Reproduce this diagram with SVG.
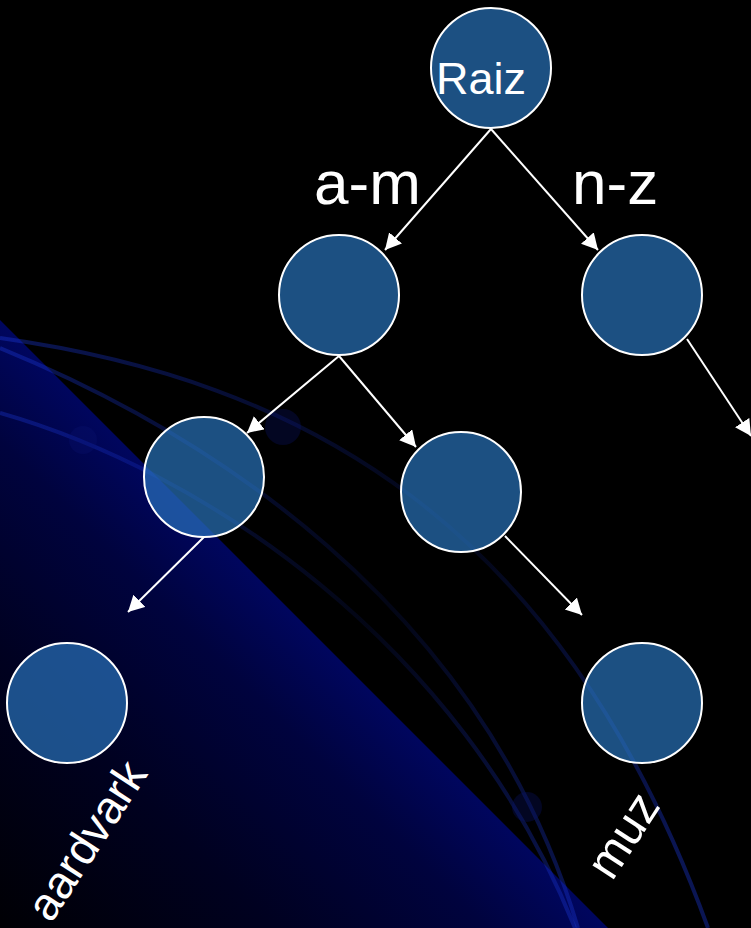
<svg xmlns="http://www.w3.org/2000/svg" width="751" height="928" viewBox="0 0 751 928">
  <defs>
    <linearGradient id="wedgeFill" gradientUnits="userSpaceOnUse" x1="304" y1="624" x2="0" y2="928">
      <stop offset="0" stop-color="#00065e"/>
      <stop offset="0.2" stop-color="#00033e"/>
      <stop offset="0.55" stop-color="#000120"/>
      <stop offset="1" stop-color="#000004"/>
    </linearGradient>
    <linearGradient id="orbitFade" gradientUnits="userSpaceOnUse" x1="0" y1="340" x2="600" y2="928">
      <stop offset="0" stop-color="#1a36d0" stop-opacity="0.4"/>
      <stop offset="0.3" stop-color="#1a36d0" stop-opacity="0.22"/>
      <stop offset="0.55" stop-color="#1a36d0" stop-opacity="0.1"/>
      <stop offset="1" stop-color="#1a36d0" stop-opacity="0.4"/>
    </linearGradient>
    <marker id="head" markerUnits="userSpaceOnUse" markerWidth="18" markerHeight="18" refX="16" refY="8.5" orient="auto">
      <path d="M0,0 L16,8.5 L0,17 z" fill="#ffffff"/>
    </marker>
    <style>
      .node circle { fill: #2a76bf; fill-opacity: 0.68; stroke: #ffffff; stroke-width: 2; }
      .edge { stroke: #ffffff; stroke-width: 2; fill: none; marker-end: url(#head); }
      .orbit { fill: none; stroke: url(#orbitFade); stroke-width: 4; }
      .dot { fill: #0a1470; fill-opacity: 0.3; }
      .lbl { font-family: "Liberation Sans", Arial, sans-serif; fill: #ffffff; }
    </style>
  </defs>

  <!-- backdrop -->
  <rect x="0" y="0" width="751" height="928" fill="#000000"/>
  <polygon points="0,320 608,928 0,928" fill="url(#wedgeFill)"/>

  <!-- orbit lines -->
  <g id="orbits">
    <path class="orbit" d="M0,338 C300,380 560,520 708,928"/>
    <path class="orbit" d="M0,348 C200,430 480,600 578,928"/>
    <path class="orbit" d="M0,413 C200,470 460,640 575,928"/>
    <circle class="dot" cx="83" cy="440" r="14"/>
    <circle class="dot" cx="283" cy="427" r="18"/>
    <circle class="dot" cx="527" cy="807" r="15"/>
  </g>

  <!-- connectors -->
  <g id="connectors">
    <line class="edge" x1="491" y1="129" x2="385" y2="250"/>
    <line class="edge" x1="491" y1="129" x2="598" y2="250"/>
    <line class="edge" x1="339" y1="356" x2="247" y2="433"/>
    <line class="edge" x1="339" y1="356" x2="416" y2="447"/>
    <line class="edge" x1="687" y1="339" x2="751" y2="436"/>
    <line class="edge" x1="204" y1="537" x2="128" y2="612"/>
    <line class="edge" x1="505" y1="536" x2="582" y2="615"/>
  </g>

  <!-- edge labels -->
  <text class="lbl" x="314" y="204" font-size="62">a-m</text>
  <text class="lbl" x="572" y="204" font-size="62">n-z</text>

  <!-- nodes -->
  <g id="root" class="node">
    <circle cx="491" cy="68" r="60"/>
    <text class="lbl" x="436" y="94" font-size="45">Raiz</text>
  </g>
  <g id="am" class="node">
    <circle cx="339" cy="295" r="60"/>
  </g>
  <g id="nz" class="node">
    <circle cx="642" cy="295" r="60"/>
  </g>
  <g id="am-left" class="node">
    <circle cx="204" cy="477" r="60"/>
  </g>
  <g id="am-right" class="node">
    <circle cx="461" cy="492" r="60"/>
  </g>
  <g id="aardvark" class="node">
    <circle cx="67" cy="703" r="60"/>
    <text class="lbl" font-size="46" transform="translate(51,924) rotate(-57)">aardvark</text>
  </g>
  <g id="muz" class="node">
    <circle cx="642" cy="703" r="60"/>
    <text class="lbl" font-size="48" transform="translate(612,882) rotate(-57)">muz</text>
  </g>
</svg>
